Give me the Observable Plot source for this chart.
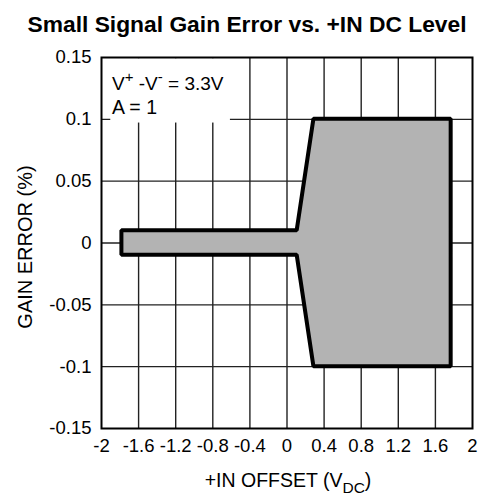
<!DOCTYPE html>
<html>
<head>
<meta charset="utf-8">
<script src="https://cdn.jsdelivr.net/npm/d3@7"></script>
<script src="https://cdn.jsdelivr.net/npm/@observablehq/plot@0.6"></script>
<style>
  html, body { margin: 0; padding: 0; background: #fff; }
  svg { display: block; }
</style>
</head>
<body>
<div id="chart"></div>
<script>
// ---- data ----
const titleText = "Small Signal Gain Error vs. +IN DC Level";
const xTicks = [-2, -1.6, -1.2, -0.8, -0.4, 0, 0.4, 0.8, 1.2, 1.6, 2];
const yTicks = [-0.15, -0.1, -0.05, 0, 0.05, 0.1, 0.15];
const offsetV = [-1.78, 0.11, 0.29, 1.77];     // +IN offset (V)
const errHigh = [0.01, 0.01, 0.1, 0.1];         // upper bound of gain error (%)
const errLow  = [-0.01, -0.01, -0.1, -0.1];     // lower bound of gain error (%)
const noteBox = [{x1: -1.9, x2: -0.61, y1: 0.097, y2: 0.149}];

const band = offsetV.map((x, i) => ({x, lo: errLow[i], hi: errHigh[i]}));
const font = "'Liberation Sans', Arial, Helvetica, sans-serif";

const W = 483, H = 502;
const chart = Plot.plot({
  width: W, height: H,
  marginLeft: 101, marginRight: 11, marginTop: 57, marginBottom: 74,
  style: {fontFamily: font, fontSize: "18.5px", color: "#000", background: "#fff"},
  x: {domain: [-2, 2], label: null},
  y: {domain: [-0.15, 0.15], label: null},
  marks: [
    Plot.ruleX(xTicks.slice(1, -1), {stroke: "#222", strokeWidth: 1.4}),
    Plot.ruleY(yTicks.slice(1, -1), {stroke: "#222", strokeWidth: 1.4}),
    Plot.rect(noteBox, {x1: "x1", x2: "x2", y1: "y1", y2: "y2", fill: "#fff"}),
    Plot.areaY(band, {x: "x", y1: "lo", y2: "hi", fill: "#b3b3b3", stroke: "#000", strokeWidth: 4, strokeLinejoin: "miter"}),
    Plot.frame({stroke: "#000", strokeWidth: 2}),
    Plot.axisX({ticks: xTicks, tickFormat: d => String(d), tickSize: 0, tickPadding: 10, label: null, fontSize: 18.5}),
    Plot.axisY({ticks: yTicks, tickFormat: d => String(d), tickSize: 0, tickPadding: 10, label: null, fontSize: 18.5})
  ]
});
document.getElementById("chart").appendChild(chart);

const svg = d3.select(chart);
// title
svg.append("text")
  .attr("x", 247).attr("y", 32)
  .attr("text-anchor", "middle")
  .style("font-family", font).style("font-size", "22.8px").style("font-weight", "bold")
  .attr("fill", "#000")
  .text(titleText);

// y label
svg.append("text")
  .attr("transform", "translate(32,247) rotate(-90)")
  .attr("text-anchor", "middle")
  .style("font-family", font).style("font-size", "20px")
  .attr("fill", "#000")
  .text("GAIN ERROR (%)");

// x label
const xl = svg.append("text")
  .attr("x", 288).attr("y", 487)
  .attr("text-anchor", "middle")
  .style("font-family", font).style("font-size", "19.5px")
  .attr("fill", "#000");
xl.append("tspan").text("+IN OFFSET (V");
xl.append("tspan").attr("dy", 6).style("font-size", "15.5px").text("DC");
xl.append("tspan").attr("dy", -6).text(")");

// annotation
const n1 = svg.append("text")
  .attr("x", 112).attr("y", 90)
  .attr("text-anchor", "start")
  .style("font-family", font).style("font-size", "19px")
  .attr("fill", "#000");
n1.append("tspan").text("V");
n1.append("tspan").attr("dy", -8).style("font-size", "15px").text("+");
n1.append("tspan").attr("dy", 8).text(" -V");
n1.append("tspan").attr("dy", -8).style("font-size", "15px").text("-");
n1.append("tspan").attr("dy", 8).text(" = 3.3V");
svg.append("text")
  .attr("x", 112).attr("y", 114)
  .attr("text-anchor", "start")
  .style("font-family", font).style("font-size", "19.5px")
  .attr("fill", "#000")
  .text("A = 1");
</script>
</body>
</html>
